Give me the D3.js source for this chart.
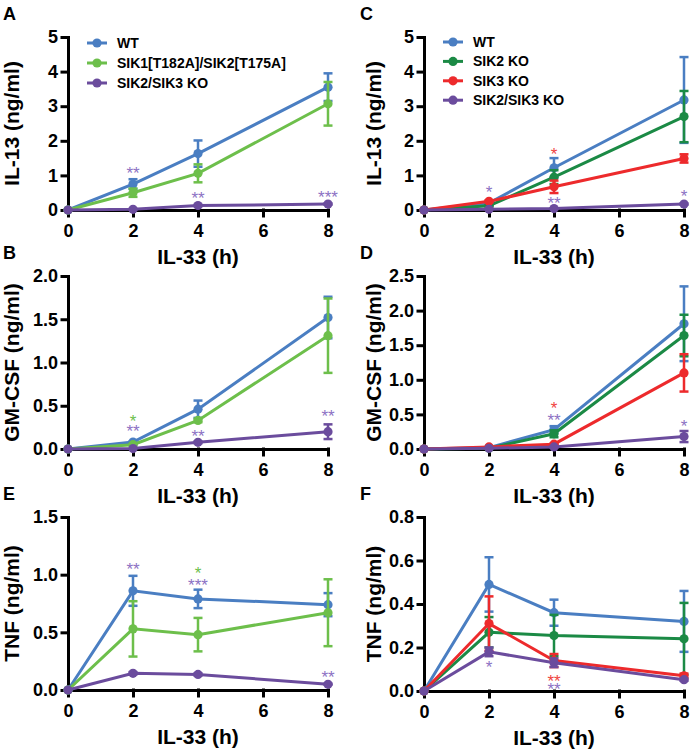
<!DOCTYPE html>
<html>
<head>
<meta charset="utf-8">
<script src="https://cdn.jsdelivr.net/npm/d3@7"></script>
<style>
  body { margin: 0; background: #fff; }
  svg { display: block; font-family: "Liberation Sans", Arial, sans-serif; font-weight: bold; }
</style>
</head>
<body>
<script>
// time points (h after IL-33)
const hours = [0, 2, 4, 8];
const xTicks = [0, 2, 4, 6, 8];

const leftGroups = ["WT", "SIK1[T182A]/SIK2[T175A]", "SIK2/SIK3 KO"];
const rightGroups = ["WT", "SIK2 KO", "SIK3 KO", "SIK2/SIK3 KO"];

// IL-13 (ng/ml)
const il13Left = [[0, 0.75, 1.63, 3.55], [0, 0.5, 1.06, 3.07], [0, 0.02, 0.13, 0.17]];
const il13LeftErr = [[0, 0.14, 0.38, 0.4], [0, 0.12, 0.26, 0.63], [0, 0.01, 0.02, 0.02]];
const il13Right = [[0, 0.2, 1.22, 3.18], [0, 0.12, 0.95, 2.7], [0, 0.25, 0.67, 1.49], [0, 0.02, 0.04, 0.17]];
const il13RightErr = [[0, 0.03, 0.28, 1.24], [0, 0.02, 0.2, 0.74], [0, 0.03, 0.18, 0.12], [0, 0, 0.01, 0.02]];

// GM-CSF (ng/ml)
const gmLeft = [[0, 0.08, 0.46, 1.52], [0, 0.05, 0.33, 1.31], [0, 0.005, 0.077, 0.2]];
const gmLeftErr = [[0, 0.01, 0.1, 0.24], [0, 0.01, 0.02, 0.43], [0, 0, 0.01, 0.085]];
const gmRight = [[0, 0.02, 0.28, 1.81], [0, 0.01, 0.22, 1.64], [0, 0.03, 0.07, 1.1], [0, 0.01, 0.03, 0.18]];
const gmRightErr = [[0, 0, 0.05, 0.54], [0, 0, 0.05, 0.3], [0, 0, 0.01, 0.27], [0, 0, 0.01, 0.08]];

// TNF (ng/ml)
const tnfLeft = [[0, 0.86, 0.79, 0.74], [0, 0.53, 0.48, 0.67], [0, 0.145, 0.135, 0.05]];
const tnfLeftErr = [[0, 0.13, 0.08, 0.1], [0, 0.24, 0.145, 0.29], [0, 0.01, 0.01, 0.005]];
const tnfRight = [[0, 0.49, 0.36, 0.32], [0, 0.27, 0.255, 0.24], [0, 0.31, 0.14, 0.07], [0, 0.18, 0.13, 0.052]];
const tnfRightErr = [[0, 0.125, 0.06, 0.14], [0, 0.07, 0.095, 0.165], [0, 0.125, 0.03, 0.01], [0, 0.02, 0.02, 0.005]];

// significance marks: [hour, y value, text, group index]
const starsA = [[2, 1.18, "**", 2], [4, 0.46, "**", 2], [8, 0.49, "***", 2]];
const starsB = [[2, 0.37, "*", 1], [2, 0.25, "**", 2], [4, 0.2, "**", 2], [8, 0.43, "**", 2]];
const starsC = [[2, 0.64, "*", 3], [4, 1.73, "*", 2], [4, 0.32, "**", 3], [8, 0.52, "*", 3]];
const starsD = [[4, 0.65, "*", 2], [4, 0.48, "**", 3], [8, 0.39, "*", 3]];
const starsE = [[2, 1.08, "**", 2], [4, 1.05, "*", 1], [4, 0.945, "***", 2], [8, 0.15, "**", 2]];
const starsF = [[2, 0.13, "*", 3], [4, 0.065, "**", 2], [4, 0.028, "**", 3]];

const leftColors = ["#4a7ec2", "#6dbf4b", "#6b4c9d"];
const rightColors = ["#4a7ec2", "#1b8a45", "#ed2a2c", "#6b4c9d"];
const leftStarColors = ["#4a7ec2", "#6dbf4b", "#8c72c4"];
const rightStarColors = ["#4a7ec2", "#1b8a45", "#f0453f", "#8c72c4"];

const svg = d3.select("body").append("svg")
    .attr("width", 690)
    .attr("height", 749);

const panels = [
    { letter: "A", col: 0, y: [210, 37], max: 5, step: 1, fmt: d3.format("d"), label: "IL-13 (ng/ml)",
      means: il13Left, errs: il13LeftErr, stars: starsA, legend: true },
    { letter: "B", col: 0, y: [449, 276], max: 2, step: 0.5, fmt: d3.format(".1f"), label: "GM-CSF (ng/ml)",
      means: gmLeft, errs: gmLeftErr, stars: starsB },
    { letter: "E", col: 0, y: [690, 517], max: 1.5, step: 0.5, fmt: d3.format(".1f"), label: "TNF (ng/ml)",
      means: tnfLeft, errs: tnfLeftErr, stars: starsE },
    { letter: "C", col: 1, y: [210, 37], max: 5, step: 1, fmt: d3.format("d"), label: "IL-13 (ng/ml)",
      means: il13Right, errs: il13RightErr, stars: starsC, legend: true },
    { letter: "D", col: 1, y: [449, 276], max: 2.5, step: 0.5, fmt: d3.format(".1f"), label: "GM-CSF (ng/ml)",
      means: gmRight, errs: gmRightErr, stars: starsD },
    { letter: "F", col: 1, y: [691, 517], max: 0.8, step: 0.2, fmt: d3.format(".1f"), label: "TNF (ng/ml)",
      means: tnfRight, errs: tnfRightErr, stars: starsF }
];

const cols = [
    { x: [68, 328], labelX: 19, letterX: 3, groups: leftGroups, colors: leftColors, starColors: leftStarColors,
      legend: { x: 87, y: 43, dy: 20 } },
    { x: [424, 684], labelX: 381, letterX: 360, groups: rightGroups, colors: rightColors, starColors: rightStarColors,
      legend: { x: 443, y: 42, dy: 19.4 } }
];

panels.forEach(p => {
    const c = cols[p.col];
    const x = d3.scaleLinear().domain([0, 8]).range(c.x);
    const y = d3.scaleLinear().domain([0, p.max]).range(p.y);
    const g = svg.append("g");

    // panel letter
    g.append("text")
        .attr("x", c.letterX)
        .attr("y", p.y[1] - 17)
        .attr("font-size", 18)
        .text(p.letter);

    // axes
    const yTicks = d3.range(0, p.max + p.step / 2, p.step);
    const yAxis = g.append("g")
        .attr("transform", `translate(${c.x[0]},0)`)
        .call(d3.axisLeft(y).tickValues(yTicks).tickFormat(p.fmt).tickSize(6).tickPadding(4).tickSizeOuter(0));
    const xAxis = g.append("g")
        .attr("transform", `translate(0,${p.y[0]})`)
        .call(d3.axisBottom(x).tickValues(xTicks).tickSize(6).tickPadding(8).tickSizeOuter(0));
    [yAxis, xAxis].forEach(a => {
        a.selectAll("path, line").attr("stroke", "#000").attr("stroke-width", 3).attr("stroke-linecap", "square");
        a.selectAll("text").attr("font-size", 18).attr("font-family", null).attr("font-weight", "bold").attr("fill", "#000");
    });

    // axis titles
    g.append("text")
        .attr("transform", `translate(${c.labelX},${(p.y[0] + p.y[1]) / 2}) rotate(-90)`)
        .attr("text-anchor", "middle")
        .attr("font-size", 21)
        .text(p.label);
    g.append("text")
        .attr("x", (c.x[0] + c.x[1]) / 2)
        .attr("y", p.y[0] + 54)
        .attr("text-anchor", "middle")
        .attr("font-size", 21)
        .text("IL-33 (h)");

    // series
    const line = d3.line().x(d => x(d[0])).y(d => y(d[1]));
    p.means.forEach((m, i) => {
        const col = c.colors[i];
        const pts = hours.map((h, k) => [h, m[k], p.errs[i][k]]);
        const s = g.append("g");
        s.append("path")
            .attr("d", line(pts))
            .attr("fill", "none")
            .attr("stroke", col)
            .attr("stroke-width", 3);
        const eb = s.selectAll(".err").data(pts.filter(d => d[2] > 0)).enter().append("g");
        eb.append("line")
            .attr("x1", d => x(d[0])).attr("x2", d => x(d[0]))
            .attr("y1", d => y(d[1] - d[2])).attr("y2", d => y(d[1] + d[2]))
            .attr("stroke", col).attr("stroke-width", 2.5);
        [-1, 1].forEach(sign => {
            eb.append("line")
                .attr("x1", d => x(d[0]) - 4.5).attr("x2", d => x(d[0]) + 4.5)
                .attr("y1", d => y(d[1] + sign * d[2])).attr("y2", d => y(d[1] + sign * d[2]))
                .attr("stroke", col).attr("stroke-width", 2.5);
        });
        s.selectAll("circle").data(pts).enter().append("circle")
            .attr("cx", d => x(d[0]))
            .attr("cy", d => y(d[1]))
            .attr("r", 4.6)
            .attr("fill", col);
    });

    // stars
    g.selectAll(".star").data(p.stars).enter().append("text")
        .attr("x", d => x(d[0]))
        .attr("y", d => y(d[1]) + 10)
        .attr("text-anchor", "middle")
        .attr("font-size", 17)
        .attr("font-weight", "normal")
        .attr("fill", d => c.starColors[d[3]])
        .text(d => d[2]);

    // legend
    if (p.legend) {
        const L = c.legend;
        c.groups.forEach((name, i) => {
            const ly = L.y + i * L.dy;
            g.append("line")
                .attr("x1", L.x).attr("x2", L.x + 20)
                .attr("y1", ly).attr("y2", ly)
                .attr("stroke", c.colors[i]).attr("stroke-width", 3);
            g.append("circle")
                .attr("cx", L.x + 10).attr("cy", ly).attr("r", 4.6)
                .attr("fill", c.colors[i]);
            g.append("text")
                .attr("x", L.x + 30)
                .attr("y", ly + 5)
                .attr("font-size", 14)
                .text(name);
        });
    }
});
</script>
</body>
</html>
